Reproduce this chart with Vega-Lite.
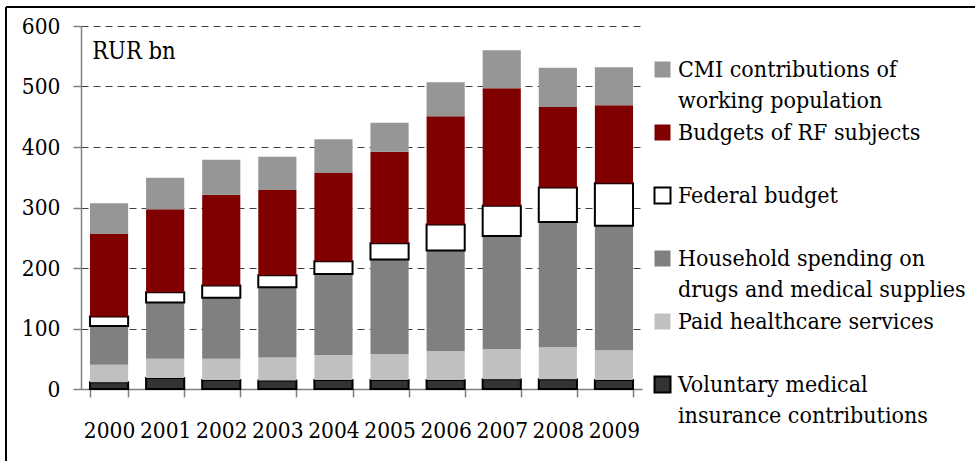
{
  "$schema": "https://vega.github.io/schema/vega-lite/v6.json",
  "autosize": {"type": "none"},
  "padding": {"left": 6, "top": 7, "right": 0, "bottom": 0},
  "width": 969,
  "height": 454,
  "background": "white",
  "data": {"values": [
    {"year": "2000", "source": "Voluntary medical insurance contributions", "k": 1, "value": 11},
    {"year": "2000", "source": "Paid healthcare services", "k": 2, "value": 29},
    {"year": "2000", "source": "Household spending on drugs and medical supplies", "k": 3, "value": 64},
    {"year": "2000", "source": "Federal budget", "k": 4, "value": 16},
    {"year": "2000", "source": "Budgets of RF subjects", "k": 5, "value": 136},
    {"year": "2000", "source": "CMI contributions of working population", "k": 6, "value": 51},
    {"year": "2001", "source": "Voluntary medical insurance contributions", "k": 1, "value": 18},
    {"year": "2001", "source": "Paid healthcare services", "k": 2, "value": 32},
    {"year": "2001", "source": "Household spending on drugs and medical supplies", "k": 3, "value": 93},
    {"year": "2001", "source": "Federal budget", "k": 4, "value": 17},
    {"year": "2001", "source": "Budgets of RF subjects", "k": 5, "value": 137},
    {"year": "2001", "source": "CMI contributions of working population", "k": 6, "value": 52},
    {"year": "2002", "source": "Voluntary medical insurance contributions", "k": 1, "value": 15},
    {"year": "2002", "source": "Paid healthcare services", "k": 2, "value": 35},
    {"year": "2002", "source": "Household spending on drugs and medical supplies", "k": 3, "value": 101},
    {"year": "2002", "source": "Federal budget", "k": 4, "value": 20},
    {"year": "2002", "source": "Budgets of RF subjects", "k": 5, "value": 150},
    {"year": "2002", "source": "CMI contributions of working population", "k": 6, "value": 58},
    {"year": "2003", "source": "Voluntary medical insurance contributions", "k": 1, "value": 14},
    {"year": "2003", "source": "Paid healthcare services", "k": 2, "value": 38},
    {"year": "2003", "source": "Household spending on drugs and medical supplies", "k": 3, "value": 116},
    {"year": "2003", "source": "Federal budget", "k": 4, "value": 20},
    {"year": "2003", "source": "Budgets of RF subjects", "k": 5, "value": 141},
    {"year": "2003", "source": "CMI contributions of working population", "k": 6, "value": 55},
    {"year": "2004", "source": "Voluntary medical insurance contributions", "k": 1, "value": 15},
    {"year": "2004", "source": "Paid healthcare services", "k": 2, "value": 41},
    {"year": "2004", "source": "Household spending on drugs and medical supplies", "k": 3, "value": 134},
    {"year": "2004", "source": "Federal budget", "k": 4, "value": 21},
    {"year": "2004", "source": "Budgets of RF subjects", "k": 5, "value": 146},
    {"year": "2004", "source": "CMI contributions of working population", "k": 6, "value": 56},
    {"year": "2005", "source": "Voluntary medical insurance contributions", "k": 1, "value": 15},
    {"year": "2005", "source": "Paid healthcare services", "k": 2, "value": 43},
    {"year": "2005", "source": "Household spending on drugs and medical supplies", "k": 3, "value": 156},
    {"year": "2005", "source": "Federal budget", "k": 4, "value": 27},
    {"year": "2005", "source": "Budgets of RF subjects", "k": 5, "value": 151},
    {"year": "2005", "source": "CMI contributions of working population", "k": 6, "value": 48},
    {"year": "2006", "source": "Voluntary medical insurance contributions", "k": 1, "value": 15},
    {"year": "2006", "source": "Paid healthcare services", "k": 2, "value": 48},
    {"year": "2006", "source": "Household spending on drugs and medical supplies", "k": 3, "value": 166},
    {"year": "2006", "source": "Federal budget", "k": 4, "value": 43},
    {"year": "2006", "source": "Budgets of RF subjects", "k": 5, "value": 179},
    {"year": "2006", "source": "CMI contributions of working population", "k": 6, "value": 56},
    {"year": "2007", "source": "Voluntary medical insurance contributions", "k": 1, "value": 16},
    {"year": "2007", "source": "Paid healthcare services", "k": 2, "value": 50},
    {"year": "2007", "source": "Household spending on drugs and medical supplies", "k": 3, "value": 187},
    {"year": "2007", "source": "Federal budget", "k": 4, "value": 50},
    {"year": "2007", "source": "Budgets of RF subjects", "k": 5, "value": 194},
    {"year": "2007", "source": "CMI contributions of working population", "k": 6, "value": 63},
    {"year": "2008", "source": "Voluntary medical insurance contributions", "k": 1, "value": 16},
    {"year": "2008", "source": "Paid healthcare services", "k": 2, "value": 53},
    {"year": "2008", "source": "Household spending on drugs and medical supplies", "k": 3, "value": 207},
    {"year": "2008", "source": "Federal budget", "k": 4, "value": 57},
    {"year": "2008", "source": "Budgets of RF subjects", "k": 5, "value": 133},
    {"year": "2008", "source": "CMI contributions of working population", "k": 6, "value": 65},
    {"year": "2009", "source": "Voluntary medical insurance contributions", "k": 1, "value": 15},
    {"year": "2009", "source": "Paid healthcare services", "k": 2, "value": 49},
    {"year": "2009", "source": "Household spending on drugs and medical supplies", "k": 3, "value": 206},
    {"year": "2009", "source": "Federal budget", "k": 4, "value": 70},
    {"year": "2009", "source": "Budgets of RF subjects", "k": 5, "value": 129},
    {"year": "2009", "source": "CMI contributions of working population", "k": 6, "value": 63}
  ]},
  "mark": {"type": "bar", "strokeWidth": 2},
  "encoding": {
    "x": {
      "field": "year", "type": "nominal",
      "scale": {"range": [75, 636], "paddingInner": 0.32, "paddingOuter": 0.16},
      "axis": {
        "title": null, "labelAngle": 0, "offset": -72, "tickBand": "extent",
        "tickSize": 8, "labelPadding": 22, "labelOverlap": false,
        "labelFont": "DejaVu Serif Condensed", "labelFontSize": 22.5,
        "domainColor": "#808080", "domainWidth": 1.5, "tickColor": "#808080", "tickWidth": 1.5
      }
    },
    "y": {
      "field": "value", "type": "quantitative", "stack": "zero",
      "scale": {"domain": [0, 600], "range": [382, 19], "nice": false, "zero": true},
      "axis": {
        "values": [0, 100, 200, 300, 400, 500, 600],
        "offset": -75, "tickSize": 8, "labelPadding": 13,
        "labelFont": "DejaVu Serif Condensed", "labelFontSize": 22.5,
        "grid": true, "gridDash": [7, 5], "gridColor": "#404040", "gridWidth": 1,
        "domainColor": "#808080", "domainWidth": 1.5, "tickColor": "#808080", "tickWidth": 1.5,
        "title": "RUR bn", "titleAngle": 0, "titleAlign": "left", "titleBaseline": "alphabetic",
        "titleX": 10.7, "titleY": 51.3, "titleFontWeight": "normal", "titleFontSize": 23.5,
        "titleFont": "DejaVu Serif Condensed", "titleColor": "black"
      }
    },
    "color": {
      "field": "source", "type": "nominal",
      "scale": {
        "domain": ["CMI contributions of working population", "Budgets of RF subjects", "Federal budget", "Household spending on drugs and medical supplies", "Paid healthcare services", "Voluntary medical insurance contributions"],
        "range": ["#969696", "#800000", "#ffffff", "#808080", "#c0c0c0", "#333333"]
      },
      "legend": {
        "title": null, "orient": "none", "legendX": 645, "legendY": 51,
        "symbolType": "square", "symbolSize": 256, "symbolStrokeWidth": 2,
        "labelFont": "DejaVu Serif Condensed", "labelFontSize": 23, "labelColor": "black",
        "labelBaseline": "middle", "labelOffset": 4, "labelLimit": 600, "rowPadding": 7, "padding": 0,
        "labelExpr": "datum.label === 'CMI contributions of working population' ? ['CMI contributions of', 'working population'] : datum.label === 'Household spending on drugs and medical supplies' ? ['Household spending on', 'drugs and medical supplies'] : datum.label === 'Voluntary medical insurance contributions' ? ['Voluntary medical', 'insurance contributions'] : [datum.label, '']"
      }
    },
    "stroke": {
      "field": "source", "type": "nominal",
      "scale": {
        "domain": ["CMI contributions of working population", "Budgets of RF subjects", "Federal budget", "Household spending on drugs and medical supplies", "Paid healthcare services", "Voluntary medical insurance contributions"],
        "range": ["transparent", "transparent", "#000000", "transparent", "transparent", "#000000"]
      }
    },
    "order": {"field": "k", "type": "quantitative", "sort": "ascending"}
  },
  "config": {
    "view": {"stroke": "#000000", "strokeWidth": 2, "strokeDash": [969, 1423, 454, 0]},
    "axis": {"labelColor": "black"},
    "style": {"guide-label": {"lineHeight": 31.5}}
  }
}
